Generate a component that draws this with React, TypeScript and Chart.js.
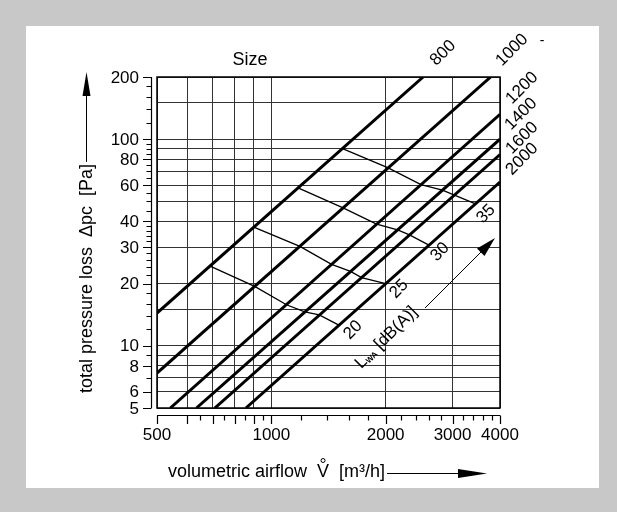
import React, { useEffect, useRef } from "react";
import { Chart, registerables } from "chart.js";

Chart.register(...registerables);

// Size lines (pressure loss vs. airflow), endpoints
const sizeNames = ["800", "1000", "1200", "1400", "1600", "2000"];
const sizeStartV = [500, 500, 542, 635, 710, 857];
const sizeStartP = [14.4, 7.38, 5, 5, 5, 5];
const sizeEndV = [2510, 3780, 4000, 4000, 4000, 4000];
const sizeEndP = [200, 200, 132, 100, 84.3, 62];

// Sound power level iso-lines (one point on each size line: 800..2000)
const dbLevels = ["20", "25", "30", "35"];
const dB20V = [690, 904, 1096, 1225, 1337, 1506];
const dB20P = [24.3, 19.4, 15.8, 14.6, 14.1, 12.6];
const dB25V = [899, 1189, 1441, 1616, 1728, 2000];
const dB25P = [37.5, 30.3, 24.8, 22.9, 21.4, 20.0];
const dB30V = [1176, 1545, 1893, 2150, 2311, 2600];
const dB30P = [58.1, 46.5, 38.8, 36.4, 34.4, 30.7];
const dB35V = [1540, 2031, 2477, 2821, 3034, 3450];
const dB35P = [90.0, 72.6, 60.3, 56.7, 53.6, 48.6];

// Grid and ticks
const xGrid = [500, 600, 700, 800, 900, 1000, 2000, 3000, 4000];
const yGrid = [5, 6, 7, 8, 9, 10, 15, 20, 30, 40, 50, 60, 70, 80, 90, 100, 150, 200];
const xLabels = [500, 1000, 2000, 3000, 4000];
const xTicksLong = [500, 600, 700, 800, 900, 1000, 2000, 3000, 4000];
const xTicksShort = [650, 750, 850, 950, 1200, 1400, 1600, 1800, 2200, 2400, 2600, 2800, 3200, 3400, 3600, 3800];
const yLabels = [5, 6, 8, 10, 20, 30, 40, 60, 80, 100, 200];
const yTicksShort = [7, 9, 12, 14, 16, 18, 22, 24, 26, 28, 32, 34, 36, 38, 45, 50, 55, 65, 70, 75, 85, 90, 95, 120, 140, 160, 180];

const FONT = '"Liberation Sans", Arial, Helvetica, sans-serif';
const f = (s: number) => `${s}px ${FONT}`;

function rotText(ctx: CanvasRenderingContext2D, t: string, cx: number, cy: number, ang: number, size: number) {
  ctx.save();
  ctx.translate(cx, cy);
  ctx.rotate(ang);
  ctx.font = f(size);
  ctx.textAlign = "center";
  ctx.textBaseline = "middle";
  ctx.fillText(t, 0, 0);
  ctx.restore();
}

const decor = {
  id: "decor",
  beforeDraw(chart: any) {
    const c = chart.ctx as CanvasRenderingContext2D;
    c.save();
    c.fillStyle = "#c8c8c8";
    c.fillRect(0, 0, chart.width, chart.height);
    c.fillStyle = "#ffffff";
    c.fillRect(26, 26, 573, 462);
    c.restore();
  },
  afterDraw(chart: any) {
    const c = chart.ctx as CanvasRenderingContext2D;
    const xs = chart.scales.x;
    const ys = chart.scales.y;
    const a = chart.chartArea;
    c.save();
    c.strokeStyle = "#000";
    c.fillStyle = "#000";

    // plot frame
    c.lineWidth = 1.5;
    c.strokeRect(a.left, a.top, a.right - a.left, a.bottom - a.top);

    // y axis (detached)
    const yTop = ys.getPixelForValue(200);
    const yBot = ys.getPixelForValue(5);
    const axX = 151.5;
    c.lineWidth = 1.2;
    c.beginPath();
    c.moveTo(axX, yTop);
    c.lineTo(axX, yBot);
    yLabels.forEach((v) => {
      const p = Math.round(ys.getPixelForValue(v)) + 0.5;
      c.moveTo(143, p);
      c.lineTo(axX, p);
    });
    yTicksShort.forEach((v) => {
      const p = Math.round(ys.getPixelForValue(v)) + 0.5;
      c.moveTo(146.5, p);
      c.lineTo(axX, p);
    });
    c.stroke();
    c.font = f(17);
    c.textAlign = "right";
    c.textBaseline = "middle";
    yLabels.forEach((v) => c.fillText(String(v), 139, ys.getPixelForValue(v) + 1));

    // x axis (detached)
    const axY = 415.5;
    c.beginPath();
    c.moveTo(xs.getPixelForValue(500), axY);
    c.lineTo(xs.getPixelForValue(4000), axY);
    xTicksLong.forEach((v) => {
      const p = Math.round(xs.getPixelForValue(v)) + 0.5;
      c.moveTo(p, axY);
      c.lineTo(p, 424);
    });
    xTicksShort.forEach((v) => {
      const p = Math.round(xs.getPixelForValue(v)) + 0.5;
      c.moveTo(p, axY);
      c.lineTo(p, 420.5);
    });
    c.stroke();
    c.textAlign = "center";
    c.textBaseline = "middle";
    xLabels.forEach((v) => c.fillText(String(v), xs.getPixelForValue(v), 435));

    // y title with arrow
    c.save();
    c.translate(87, 393);
    c.rotate(-Math.PI / 2);
    c.font = f(18);
    c.textAlign = "left";
    c.textBaseline = "middle";
    const yt = "total pressure loss  \u0394pc  [Pa]";
    c.fillText(yt, 0, 0);
    const yw = c.measureText(yt).width;
    c.restore();
    c.lineWidth = 1;
    c.beginPath();
    c.moveTo(86.5, 393 - yw - 2);
    c.lineTo(86.5, 94);
    c.stroke();
    c.beginPath();
    c.moveTo(86.5, 72);
    c.lineTo(82.5, 96);
    c.lineTo(90.5, 96);
    c.closePath();
    c.fill();

    // x title with arrow
    c.font = f(18);
    c.textAlign = "left";
    c.textBaseline = "alphabetic";
    let x = 168;
    const base = 477;
    const t1 = "volumetric airflow  ";
    c.fillText(t1, x, base);
    x += c.measureText(t1).width;
    c.fillText("V", x, base);
    const vw = c.measureText("V").width;
    c.lineWidth = 1;
    c.beginPath();
    c.arc(x + vw / 2, base - 16.5, 2, 0, Math.PI * 2);
    c.stroke();
    x += vw;
    const t2 = "  [m\u00b3/h]";
    c.fillText(t2, x, base);
    x += c.measureText(t2).width;
    c.beginPath();
    c.moveTo(x + 2, 473.5);
    c.lineTo(460, 473.5);
    c.stroke();
    c.beginPath();
    c.moveTo(487, 473.5);
    c.lineTo(458, 469);
    c.lineTo(458, 478);
    c.closePath();
    c.fill();

    // "Size" title
    c.font = f(18);
    c.textAlign = "center";
    c.textBaseline = "middle";
    c.fillText("Size", 250, 60);

    // size labels
    const R = -Math.PI / 4;
    rotText(c, "800", 443, 53, R, 17);
    rotText(c, "1000", 512, 50, R, 17);
    rotText(c, "-", 542, 41, 0, 14);
    rotText(c, "1200", 522, 88, R, 17);
    rotText(c, "1400", 521, 114, R, 17);
    rotText(c, "1600", 522, 138, R, 17);
    rotText(c, "2000", 522, 159, R, 17);

    // dB labels
    rotText(c, "35", 486, 214, R, 17);
    rotText(c, "30", 440, 252, R, 17);
    rotText(c, "25", 399, 289, R, 17);
    rotText(c, "20", 353, 330, R, 17);

    // L_WA [dB(A)] with arrow
    c.save();
    c.translate(358, 366);
    c.rotate(R);
    c.textAlign = "left";
    c.textBaseline = "middle";
    c.font = f(17);
    c.fillText("L", 0, 0);
    let lx = c.measureText("L").width;
    c.font = `bold ${f(8)}`;
    c.fillText("WA", lx, 4);
    lx += c.measureText("WA").width;
    c.font = f(17);
    c.fillText(" [dB(A)]", lx, 0);
    c.restore();
    c.lineWidth = 1;
    c.beginPath();
    c.moveTo(425, 308);
    c.lineTo(483, 250);
    c.stroke();
    c.beginPath();
    c.moveTo(495, 238);
    c.lineTo(484.5, 256);
    c.lineTo(477, 248.5);
    c.closePath();
    c.fill();

    c.restore();
  },
};

export default function App() {
  const ref = useRef<HTMLCanvasElement>(null);
  useEffect(() => {
    const sizeSets = sizeNames.map((n, i) => ({
      label: "Size " + n,
      data: [
        { x: sizeStartV[i], y: sizeStartP[i] },
        { x: sizeEndV[i], y: sizeEndP[i] },
      ],
      borderColor: "#000",
      backgroundColor: "#000",
      borderWidth: 3,
      pointRadius: 0,
      showLine: true,
      clip: 0,
    }));
    const isoV = [dB20V, dB25V, dB30V, dB35V];
    const isoP = [dB20P, dB25P, dB30P, dB35P];
    const isoSets = dbLevels.map((n, i) => ({
      label: n + " dB(A)",
      data: isoV[i].map((v, j) => ({ x: v, y: isoP[i][j] })),
      borderColor: "#000",
      backgroundColor: "#000",
      borderWidth: 1.3,
      pointRadius: 0,
      showLine: true,
      clip: 0,
    }));
    const chart = new Chart(ref.current as HTMLCanvasElement, {
      type: "scatter",
      data: { datasets: [...sizeSets, ...isoSets] as any },
      options: {
        responsive: false,
        devicePixelRatio: 1,
        animation: false,
        events: [],
        layout: { padding: { left: 157, right: 117, top: 77, bottom: 104 } },
        plugins: { legend: { display: false }, tooltip: { enabled: false } },
        scales: {
          x: {
            type: "logarithmic",
            min: 500,
            max: 4000,
            afterBuildTicks: (s: any) => {
              s.ticks = xGrid.map((v) => ({ value: v }));
            },
            ticks: { display: false },
            border: { display: false },
            grid: { color: "#333", lineWidth: 1, drawTicks: false },
          },
          y: {
            type: "logarithmic",
            min: 5,
            max: 200,
            afterBuildTicks: (s: any) => {
              s.ticks = yGrid.map((v) => ({ value: v }));
            },
            ticks: { display: false },
            border: { display: false },
            grid: { color: "#333", lineWidth: 1, drawTicks: false },
          },
        },
      },
      plugins: [decor],
    });
    return () => chart.destroy();
  }, []);
  return (
    <div style={{ position: "fixed", left: 0, top: 0, width: 617, height: 512 }}>
      <canvas ref={ref} width={617} height={512} style={{ display: "block", width: 617, height: 512 }} />
    </div>
  );
}
